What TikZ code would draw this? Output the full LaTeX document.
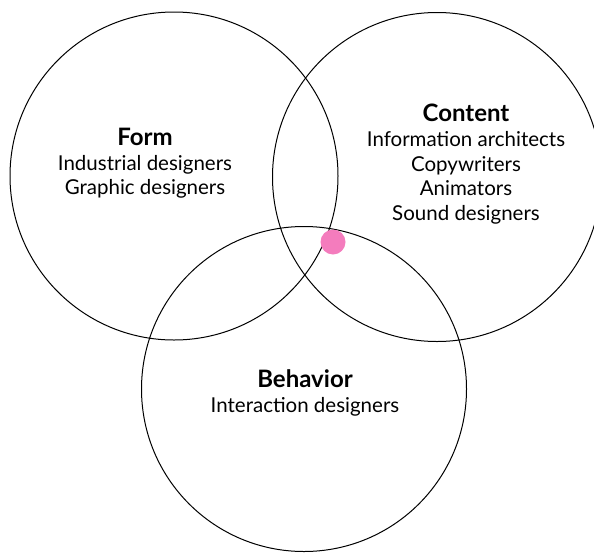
\documentclass[tikz,border=0pt]{standalone}
\usepackage{fontspec}
\setmainfont{Lato}
\definecolor{dotpink}{RGB}{244,124,189}
\tikzset{
  ring/.style={draw, circle, line width=1pt, inner sep=0pt},
  head/.style={font=\fontsize{24}{28}\selectfont\bfseries, inner sep=0pt, text height=0.72em, text depth=0.22em},
  role/.style={font=\fontsize{20.5}{24}\selectfont, inner sep=0pt, text height=0.72em, text depth=0.22em}
}
\begin{document}
\begin{tikzpicture}[x=1pt,y=-1pt]
    \useasboundingbox (0,0) rectangle (594,552);
    % the three circles
    \node[ring, minimum size=328pt] (form) at (174,176) {};
    \node[ring, minimum size=329pt] (content) at (437,177) {};
    \node[ring, minimum size=325pt] (behavior) at (304,389) {};
    % marker
    \node[circle, fill=dotpink, inner sep=0pt, minimum size=25pt] (dot) at (333,242) {};
    %
    \node[head] (formhead) at (145,143) {Form};
    \node[role] (form1) at (145,168) {Industrial designers};
    \node[role] (form2) at (145,192) {Graphic designers};
    %
    \node[head] (contenthead) at (466,119) {Content};
    \node[role] (content1) at (466,144) {Information architects};
    \node[role] (content2) at (466,169) {Copywriters};
    \node[role] (content3) at (466,193) {Animators};
    \node[role] (content4) at (466,218) {Sound designers};
    %
    \node[head] (behaviorhead) at (305,385) {Behavior};
    \node[role] (behavior1) at (305,410) {Interaction designers};
\end{tikzpicture}
\end{document}
